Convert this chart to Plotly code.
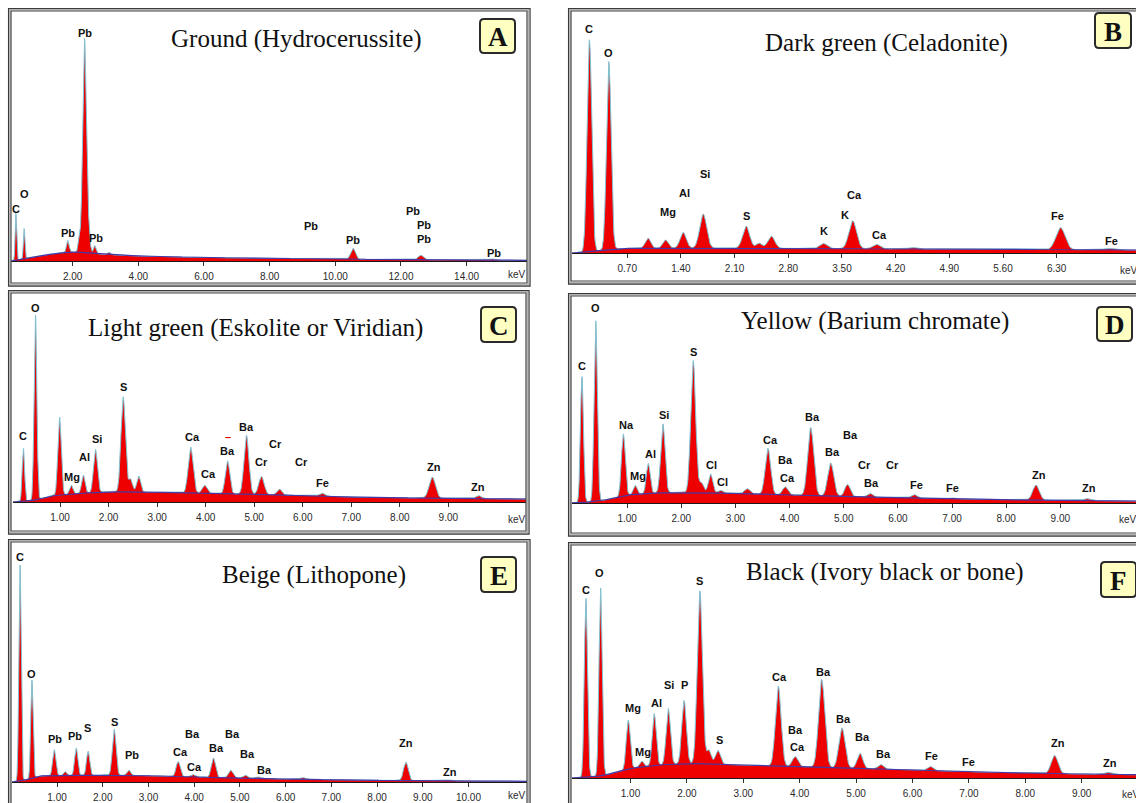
import numpy as np
import plotly.graph_objects as go

W, H = 1136, 803

# ---------------- data ----------------
# Panel A – Ground (Hydrocerussite)
A_bg_kev = [0.12, 0.3, 0.6, 1.0, 1.5, 2.0, 2.5, 3.0, 4.0, 6.0, 8.0, 10.0, 12.0, 15.84]
A_bg_h = [0, 1, 3, 5.5, 7.5, 9, 8, 6.5, 5, 3.5, 2.7, 2, 1.4, 0.7]
A_peak_kev = [0.27, 0.52, 1.85, 2.20, 2.36, 2.47, 2.67, 3.10, 10.54, 12.61, 14.76]
A_peak_h = [47, 30, 12, 15, 212, 25, 8, 2.5, 11, 4.5, 1.2]
A_peak_w = [0.022, 0.022, 0.04, 0.035, 0.055, 0.05, 0.035, 0.04, 0.07, 0.08, 0.08]
A_lab = ["C", "O", "Pb", "Pb", "Pb", "Pb", "Pb", "Pb", "Pb", "Pb", "Pb"]
A_lab_kev = [0.27, 0.52, 2.38, 1.85, 2.70, 9.26, 10.54, 12.37, 12.69, 12.69, 14.82]
A_lab_h = [52, 67, 228, 28, 23, 35, 21, 50, 36, 22, 8]
A_ticks = [2, 4, 6, 8, 10, 12, 14]

# Panel B – Dark green (Celadonite)
B_bg_kev = [-0.02, 0.1, 0.3, 0.6, 1.0, 2.0, 3.0, 4.5, 6.0, 7.34]
B_bg_h = [0, 0.5, 2, 4.5, 5, 5, 4.5, 4, 3.5, 3]
B_peak_kev = [0.207, 0.46, 0.97, 1.20, 1.43, 1.69, 2.25, 2.42, 2.58, 3.26, 3.64, 3.95, 4.42, 6.35, 6.98]
B_peak_h = [212, 188, 10, 8, 15.5, 34, 22, 5, 12, 5, 28, 4.5, 1.5, 22, 1.5]
B_peak_w = [0.03, 0.03, 0.035, 0.035, 0.04, 0.045, 0.045, 0.04, 0.045, 0.05, 0.05, 0.05, 0.05, 0.06, 0.06]
B_lab = ["C", "O", "Mg", "Al", "Si", "S", "K", "K", "Ca", "Ca", "Fe", "Fe"]
B_lab_kev = [0.207, 0.46, 1.23, 1.45, 1.71, 2.25, 3.26, 3.54, 3.66, 3.99, 6.31, 7.02]
B_lab_h = [224, 200, 41, 60, 79, 37, 22, 38, 58, 18, 37, 12]
B_ticks = [0.7, 1.4, 2.1, 2.8, 3.5, 4.2, 4.9, 5.6, 6.3]

# Panel C – Light green (Eskolite or Viridian)
C_bg_kev = [0.03, 0.2, 0.5, 0.8, 1.0, 1.5, 2.0, 2.5, 3.0, 4.0, 5.0, 6.0, 7.0, 8.0, 9.0, 10.6]
C_bg_h = [0, 0.5, 2, 6, 7, 9, 10.3, 10, 9.7, 8.7, 7.7, 6.3, 5, 4.3, 3.7, 3]
C_peak_kev = [0.245, 0.494, 0.99, 1.23, 1.48, 1.73, 2.30, 2.45, 2.62, 3.69, 3.98, 4.45, 4.84, 5.15, 5.52, 6.40, 8.67, 9.62]
C_peak_h = [53, 185, 78, 9, 18, 43, 95, 13, 16, 46, 8, 33, 59, 18, 6, 3, 21, 3]
C_peak_w = [0.025, 0.028, 0.035, 0.035, 0.035, 0.04, 0.045, 0.04, 0.04, 0.05, 0.05, 0.045, 0.05, 0.055, 0.05, 0.06, 0.065, 0.06]
C_lab = ["C", "O", "Mg", "Al", "Si", "S", "Ca", "Ca", "Ba", "Ba", "Cr", "Cr", "Cr", "Fe", "Zn", "Zn"]
C_lab_kev = [0.245, 0.494, 1.25, 1.50, 1.76, 2.30, 3.72, 4.05, 4.46, 4.84, 5.15, 5.44, 5.98, 6.40, 8.70, 9.62]
C_lab_h = [66, 194, 25, 45, 63, 115, 65, 28, 51, 75, 40, 58, 40, 19, 35, 15]
C_ticks = [1, 2, 3, 4, 5, 6, 7, 8, 9]

# Panel D – Yellow (Barium chromate)
D_bg_kev = [-0.04, 0.2, 0.5, 1.0, 1.5, 2.0, 3.0, 4.0, 5.0, 6.0, 7.0, 8.0, 9.0, 10.4]
D_bg_h = [0, 0.5, 2, 8, 10, 10.7, 9.7, 8, 6.7, 5.3, 4.3, 3.3, 2.7, 2]
D_peak_kev = [0.166, 0.42, 0.93, 1.15, 1.39, 1.66, 2.22, 2.37, 2.54, 2.72, 3.22, 3.60, 3.92, 4.39, 4.76, 5.07, 5.49, 6.30, 6.99, 8.55, 9.48]
D_peak_h = [126, 181, 62, 9, 30, 69, 132, 10, 19, 3, 5, 46, 8, 68, 33, 12, 3.5, 3.5, 1, 15, 2]
D_peak_w = [0.028, 0.03, 0.035, 0.035, 0.035, 0.04, 0.045, 0.04, 0.04, 0.04, 0.05, 0.05, 0.05, 0.055, 0.055, 0.05, 0.05, 0.055, 0.05, 0.06, 0.06]
D_lab = ["C", "O", "Na", "Mg", "Al", "Si", "S", "Cl", "Cl", "Ca", "Ba", "Ca", "Ba", "Ba", "Ba", "Cr", "Cr", "Ba", "Fe", "Fe", "Zn", "Zn"]
D_lab_kev = [0.17, 0.42, 0.98, 1.20, 1.44, 1.68, 2.22, 2.56, 2.76, 3.64, 3.92, 3.97, 4.42, 5.12, 4.79, 5.38, 5.90, 5.52, 6.34, 7.00, 8.60, 9.53]
D_lab_h = [137, 195, 78, 27, 49, 88, 151, 38, 21, 63, 43, 25, 86, 68, 51, 38, 38, 20, 18, 15, 28, 15]
D_ticks = [1, 2, 3, 4, 5, 6, 7, 8, 9]

# Panel E – Beige (Lithopone)
E_bg_kev = [0.015, 0.1, 0.3, 0.6, 1.0, 2.0, 3.0, 4.0, 5.0, 6.0, 7.0, 8.0, 10.0, 11.3]
E_bg_h = [0, 0.5, 2, 6, 6.3, 7, 6.3, 5, 4, 3, 2.3, 1.7, 1, 0.7]
E_peak_kev = [0.19, 0.45, 0.94, 1.18, 1.42, 1.68, 2.25, 2.57, 3.65, 3.97, 4.42, 4.80, 5.12, 5.40, 6.37, 8.63, 9.57]
E_peak_h = [216, 98, 26, 4, 27.5, 24, 46, 5.5, 15, 2.5, 19.5, 7.5, 3, 1.5, 1.7, 18.5, 1]
E_peak_w = [0.025, 0.025, 0.035, 0.035, 0.035, 0.035, 0.04, 0.04, 0.045, 0.045, 0.045, 0.05, 0.05, 0.05, 0.05, 0.05, 0.05]
E_lab = ["C", "O", "Pb", "Pb", "S", "S", "Pb", "Ca", "Ca", "Ba", "Ba", "Ba", "Ba", "Ba", "Zn", "Zn"]
E_lab_kev = [0.20, 0.45, 0.96, 1.40, 1.67, 2.26, 2.63, 3.69, 4.01, 3.97, 4.49, 4.84, 5.16, 5.54, 8.63, 9.60]
E_lab_h = [225, 108, 43, 46, 54, 60, 27, 30, 15, 48, 34, 48, 28, 12, 39, 10]
E_ticks = [1, 2, 3, 4, 5, 6, 7, 8, 9, 10]

# Panel F – Black (Ivory black or bone)
F_bg_kev = [-0.04, 0.1, 0.3, 0.5, 0.7, 1.0, 1.5, 2.0, 2.5, 3.0, 4.0, 5.0, 6.0, 7.0, 8.0, 9.0, 9.97]
F_bg_h = [0, 0.3, 1, 2.3, 5, 9.7, 13, 14.7, 13.7, 13, 11.3, 9.7, 8, 6.3, 5, 4, 3.3]
F_peak_kev = [0.21, 0.47, 0.96, 1.20, 1.42, 1.67, 1.95, 2.23, 2.39, 2.55, 3.62, 3.92, 4.39, 4.75, 5.07, 5.44, 6.32, 6.92, 8.52, 9.46]
F_peak_h = [179, 188, 49, 6, 52, 56, 63, 173, 14, 14, 80, 10, 88, 40, 15, 4.5, 4, 1, 18, 2]
F_peak_w = [0.028, 0.028, 0.035, 0.035, 0.035, 0.038, 0.04, 0.045, 0.04, 0.045, 0.05, 0.05, 0.055, 0.055, 0.05, 0.05, 0.05, 0.05, 0.06, 0.06]
F_lab = ["C", "O", "Mg", "Mg", "Al", "Si", "P", "S", "S", "Ca", "Ba", "Ca", "Ba", "Ba", "Ba", "Ba", "Fe", "Fe", "Zn", "Zn"]
F_lab_kev = [0.21, 0.45, 1.04, 1.23, 1.46, 1.68, 1.95, 2.23, 2.57, 3.65, 3.92, 3.97, 4.42, 4.78, 5.11, 5.48, 6.34, 6.99, 8.58, 9.50]
F_lab_h = [188, 205, 70, 26, 75, 93, 93, 197, 38, 101, 48, 31, 106, 59, 41, 24, 22, 16, 35, 15]
F_ticks = [1, 2, 3, 4, 5, 6, 7, 8, 9]

TITLES = ["Ground (Hydrocerussite)", "Dark green (Celadonite)",
          "Light green (Eskolite or Viridian)", "Yellow (Barium chromate)",
          "Beige (Lithopone)", "Black (Ivory black or bone)"]
LETTERS = ["A", "B", "C", "D", "E", "F"]

# ---------------- layout geometry (pixels) ----------------
PANELS = [
    dict(pl=11, pr=527, pt=11, pb=261, xr=[0.122, 15.84], frame=(8, 530, 8, 286),
         title=(296, 39), box=(480, 515, 19, 53), kev=(517, 274), fmt="%.2f"),
    dict(pl=572, pr=1136, pt=11, pb=253, xr=[-0.02, 7.334], frame=(568, 1142, 8, 284),
         title=(886, 43), box=(1095, 1131, 13, 48), kev=(1129, 270), fmt="%.2f"),
    dict(pl=13, pr=526, pt=293, pb=502, xr=[0.031, 10.6], frame=(8, 529, 290, 534),
         title=(255, 328), box=(481, 516, 307, 342), kev=(517, 519), fmt="%.2f"),
    dict(pl=572, pr=1136, pt=296, pb=503, xr=[-0.018, 10.397], frame=(568, 1142, 293, 536),
         title=(875, 321), box=(1097, 1132, 307, 341), kev=(1128, 519), fmt="%.2f"),
    dict(pl=12, pr=527, pt=542, pb=782, xr=[0.015, 11.28], frame=(8, 530, 539, 810),
         title=(314, 575), box=(481, 516, 557, 592), kev=(517, 795), fmt="%.2f"),
    dict(pl=572, pr=1136, pt=546, pb=778, xr=[-0.037, 9.963], frame=(568, 1142, 542, 810),
         title=(885, 572), box=(1101, 1136, 562, 597), kev=(1131, 794), fmt="%.2f"),
]

DATA = [
    (A_bg_kev, A_bg_h, A_peak_kev, A_peak_h, A_peak_w, A_lab, A_lab_kev, A_lab_h, A_ticks),
    (B_bg_kev, B_bg_h, B_peak_kev, B_peak_h, B_peak_w, B_lab, B_lab_kev, B_lab_h, B_ticks),
    (C_bg_kev, C_bg_h, C_peak_kev, C_peak_h, C_peak_w, C_lab, C_lab_kev, C_lab_h, C_ticks),
    (D_bg_kev, D_bg_h, D_peak_kev, D_peak_h, D_peak_w, D_lab, D_lab_kev, D_lab_h, D_ticks),
    (E_bg_kev, E_bg_h, E_peak_kev, E_peak_h, E_peak_w, E_lab, E_lab_kev, E_lab_h, E_ticks),
    (F_bg_kev, F_bg_h, F_peak_kev, F_peak_h, F_peak_w, F_lab, F_lab_kev, F_lab_h, F_ticks),
]


def px(x):
    return x / W


def py(y):
    return 1 - y / H


def spectrum(xr, bg_k, bg_h, pk, ph, pw):
    x = np.arange(xr[0], xr[1] + 0.004, 0.004)
    bg = np.interp(x, bg_k, bg_h)
    y = bg.copy()
    for e, h, w in zip(pk, ph, pw):
        y = y + h * np.exp(-0.5 * ((x - e) / w) ** 2)
    return x, y, bg


TICKFONT = dict(family="Liberation Sans Narrow, Arial Narrow, Liberation Sans, Arial", size=10, color="#2a2a2a")
LABFONT = dict(family="Liberation Sans Narrow, Arial Narrow, Liberation Sans, Arial", size=11, color="#111111", weight="bold")
TITLEFONT = dict(family="Liberation Serif, Times New Roman, serif", size=25, color="#111111")
LETTERFONT = dict(family="Liberation Serif, Times New Roman, serif", size=27, color="#111111", weight="bold")

fig = go.Figure()
layout = {}
shapes = []
annotations = []

for i, (p, d) in enumerate(zip(PANELS, DATA)):
    n = i + 1
    xa = "xaxis" if n == 1 else f"xaxis{n}"
    ya = "yaxis" if n == 1 else f"yaxis{n}"
    xref = "x" if n == 1 else f"x{n}"
    yref = "y" if n == 1 else f"y{n}"
    bg_k, bg_h, pk, ph, pw, lab, lab_k, lab_h, ticks = d
    height = p["pb"] - p["pt"]

    x, y, bg = spectrum(p["xr"], bg_k, bg_h, pk, ph, pw)
    fig.add_trace(go.Scatter(x=x, y=y, xaxis=xref, yaxis=yref, mode="lines",
                             fill="tozeroy", fillcolor="#ee0000",
                             line=dict(color="#7fc4d4", width=1), hoverinfo="skip",
                             showlegend=False))
    fig.add_trace(go.Scatter(x=x, y=bg, xaxis=xref, yaxis=yref, mode="lines",
                             line=dict(color="#4638a8", width=1.2), hoverinfo="skip",
                             showlegend=False))

    layout[xa] = dict(domain=[max(0, px(p["pl"])), min(1, px(p["pr"]))], range=p["xr"], anchor=yref,
                      showgrid=False, zeroline=False, showline=True, linecolor="#1a1a1a",
                      linewidth=1.3, ticks="outside", ticklen=4, tickwidth=1, tickcolor="#333",
                      tickvals=ticks, ticktext=[p["fmt"] % t for t in ticks],
                      tickfont=TICKFONT, ticklabelstandoff=2, fixedrange=True)
    layout[ya] = dict(domain=[py(p["pb"]), py(p["pt"])], range=[0, height], anchor=xref,
                      visible=False, fixedrange=True)

    # peak labels
    for t, k, h in zip(lab, lab_k, lab_h):
        annotations.append(dict(x=k, y=h, xref=xref, yref=yref, text=t, showarrow=False,
                                font=LABFONT, xanchor="center", yanchor="middle"))

    # frame (double bevelled line)
    fx0, fx1, fy0, fy1 = p["frame"]
    shapes.append(dict(type="rect", xref="paper", yref="paper", x0=px(fx0 + 0.6), x1=px(fx1),
                       y0=py(fy1), y1=py(fy0 + 0.6), line=dict(color="#3a3a3a", width=1.3), layer="above"))
    shapes.append(dict(type="rect", xref="paper", yref="paper", x0=px(fx0 + 1.8), x1=px(fx1 - 1.5),
                       y0=py(fy1 - 1.5), y1=py(fy0 + 1.8), line=dict(color="#b4b4b4", width=1.5), layer="above"))
    shapes.append(dict(type="rect", xref="paper", yref="paper", x0=px(fx0 + 3), x1=px(fx1 - 3),
                       y0=py(fy1 - 3), y1=py(fy0 + 3), line=dict(color="#444444", width=1.2), layer="above"))

    # title
    tx, ty = p["title"]
    annotations.append(dict(x=px(tx), y=py(ty), xref="paper", yref="paper", text=TITLES[i],
                            showarrow=False, font=TITLEFONT, xanchor="center", yanchor="middle"))

    # letter box (rounded)
    bx0, bx1, by0, by1 = p["box"]
    r = 4
    path = (f"M {px(bx0 + r)},{py(by0)} L {px(bx1 - r)},{py(by0)} "
            f"Q {px(bx1)},{py(by0)} {px(bx1)},{py(by0 + r)} L {px(bx1)},{py(by1 - r)} "
            f"Q {px(bx1)},{py(by1)} {px(bx1 - r)},{py(by1)} L {px(bx0 + r)},{py(by1)} "
            f"Q {px(bx0)},{py(by1)} {px(bx0)},{py(by1 - r)} L {px(bx0)},{py(by0 + r)} "
            f"Q {px(bx0)},{py(by0)} {px(bx0 + r)},{py(by0)} Z")
    shapes.append(dict(type="path", xref="paper", yref="paper", path=path,
                       fillcolor="#ffffc2", line=dict(color="#2a2a2a", width=2), layer="above"))
    annotations.append(dict(x=px((bx0 + bx1) / 2), y=py((by0 + by1) / 2 + 1), xref="paper", yref="paper",
                            text=LETTERS[i], showarrow=False, font=LETTERFONT,
                            xanchor="center", yanchor="middle"))

    # keV unit label
    kx, ky = p["kev"]
    annotations.append(dict(x=px(kx), y=py(ky), xref="paper", yref="paper", text="keV",
                            showarrow=False, font=TICKFONT, xanchor="center", yanchor="middle"))

# small red mark above Ba in panel C
annotations.append(dict(x=4.46, y=65, xref="x3", yref="y3", text="–", showarrow=False,
                        font=dict(family="Liberation Sans", size=11, color="#e00000", weight="bold")))

fig.update_layout(width=W, height=H, margin=dict(l=0, r=0, t=0, b=0),
                  paper_bgcolor="white", plot_bgcolor="white", showlegend=False,
                  hovermode=False, shapes=shapes, annotations=annotations, **layout)

# remove the page's default body margin / scrollbars so the figure fills the window exactly
fig.write_html("out.html",
               config={"displayModeBar": False, "staticPlot": True},
               post_script="document.body.style.margin='0';"
                           "document.body.style.overflow='hidden';"
                           "document.documentElement.style.overflow='hidden';")
